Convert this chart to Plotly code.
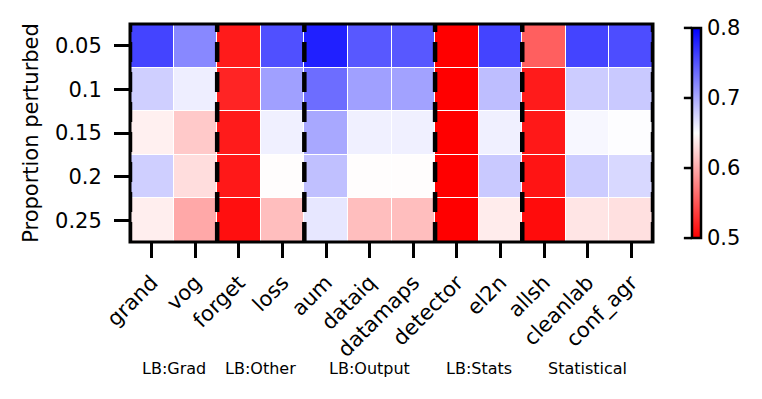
import plotly.graph_objects as go

methods = ["grand", "vog", "forget", "loss", "aum", "dataiq", "datamaps",
           "detector", "el2n", "allsh", "cleanlab", "conf_agr"]
proportions = ["0.05", "0.1", "0.15", "0.2", "0.25"]
groups = ["LB:Grad", "LB:Other", "LB:Output", "LB:Stats", "Statistical"]
group_centers = [0.5, 2.5, 5.0, 7.5, 10.0]
group_bounds = [-0.5, 1.5, 3.5, 6.5, 8.5, 11.5]
cbar_ticks = [0.5, 0.6, 0.7, 0.8]

# rows = proportion perturbed, columns = methods
scores = [
    [0.760, 0.720, 0.516, 0.753, 0.781, 0.748, 0.748, 0.500, 0.760, 0.556, 0.760, 0.755],
    [0.678, 0.660, 0.521, 0.706, 0.736, 0.706, 0.705, 0.500, 0.688, 0.516, 0.680, 0.682],
    [0.641, 0.618, 0.516, 0.659, 0.701, 0.659, 0.659, 0.500, 0.659, 0.514, 0.655, 0.651],
    [0.678, 0.630, 0.514, 0.649, 0.687, 0.649, 0.649, 0.500, 0.682, 0.512, 0.680, 0.673],
    [0.640, 0.599, 0.509, 0.612, 0.664, 0.612, 0.612, 0.500, 0.639, 0.507, 0.635, 0.632],
]

zmin, zmax = 0.5, 0.8
bwr_r = [[0.0, "rgb(255,0,0)"], [0.5, "rgb(255,255,255)"], [1.0, "rgb(0,0,255)"]]

cb_bottom, cb_top = 0.018, 0.982
cb_x = 1.074

fig = go.Figure(go.Heatmap(
    z=scores,
    x=list(range(len(methods))),
    y=list(range(len(proportions))),
    zmin=zmin, zmax=zmax,
    colorscale=bwr_r,
    xgap=1, ygap=1,
    colorbar={
        "x": cb_x, "xanchor": "left", "xref": "paper",
        "y": cb_bottom, "yanchor": "bottom",
        "len": cb_top - cb_bottom, "lenmode": "fraction",
        "thickness": 9, "xpad": 0, "ypad": 0,
        "outlinewidth": 2.5, "outlinecolor": "black",
        "ticks": "",
        "tickvals": cbar_ticks,
        "ticktext": [f"{t:.1f}" for t in cbar_ticks],
        "tickfont": {"size": 21, "color": "black"},
    },
))

# colorbar ticks sit on the left side of the bar in the original
for t in cbar_ticks:
    yt = cb_bottom + (t - zmin) / (zmax - zmin) * (cb_top - cb_bottom)
    fig.add_shape(type="line", x0=cb_x - 0.015, x1=cb_x, y0=yt, y1=yt,
                  xref="paper", yref="paper", line={"color": "black", "width": 2.5})

for xb in group_bounds:
    fig.add_shape(type="line", x0=xb, x1=xb, y0=0, y1=1, xref="x", yref="paper",
                  line={"color": "black", "width": 4.5, "dash": "20px,10px"})

fig.add_shape(type="rect", x0=0, x1=1, y0=0, y1=1, xref="paper", yref="paper",
              line={"color": "black", "width": 3})

for name, gx in zip(groups, group_centers):
    fig.add_annotation(text=name, x=gx, y=-0.578, xref="x", yref="paper",
                       showarrow=False, xanchor="center", yanchor="middle",
                       font={"size": 16, "color": "black"})

fig.update_xaxes(
    range=[-0.5, 11.5], tickvals=list(range(len(methods))), ticktext=methods,
    tickangle=-45, ticks="outside", ticklen=15, tickwidth=2.5, tickcolor="black",
    ticklabelstandoff=4,
    showgrid=False, zeroline=False, tickfont={"size": 21, "color": "black"},
)
fig.update_yaxes(
    range=[4.5, -0.5], tickvals=list(range(len(proportions))), ticktext=proportions,
    ticks="outside", ticklen=15, tickwidth=2.5, tickcolor="black",
    ticklabelstandoff=8,
    showgrid=False, zeroline=False, tickfont={"size": 21, "color": "black"},
    title={"text": "Proportion perturbed", "font": {"size": 21, "color": "black"},
           "standoff": 10},
)

fig.update_layout(
    width=762, height=399,
    margin={"l": 122, "r": 117, "t": 16, "b": 165},
    paper_bgcolor="white", plot_bgcolor="white",
    font={"family": "DejaVu Sans", "color": "black"},
)

fig.write_html("out.html")
